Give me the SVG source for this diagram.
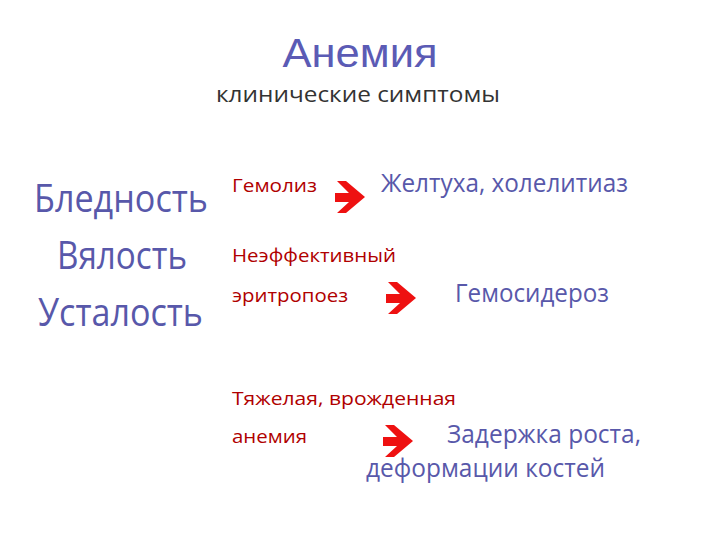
<svg xmlns="http://www.w3.org/2000/svg" width="720" height="540" viewBox="0 0 720 540">
<style>
.t{font-family:"Open Sans","Noto Sans","DejaVu Sans",sans-serif}
.blue{fill:#5858aa}
.red{fill:#b00000;font-size:19px}
.big{font-size:38px}
.mid{font-size:25px}
</style>
<defs>
<polygon id="arr" points="2,0 11,0 30,16 11,32 2,32 14,21 0,21 0,12 14,12" fill="#ee1111"/>
</defs>
<rect width="720" height="540" fill="#fff"/>
<g id="title">
<text x="360" y="67" text-anchor="middle" font-family="Liberation Sans, Arial, sans-serif" font-size="40" fill="#5b5bb5" textLength="155" lengthAdjust="spacingAndGlyphs">Анемия</text>
<text class="t" x="216" y="102" font-size="22" fill="#333" textLength="284" lengthAdjust="spacingAndGlyphs">клинические симптомы</text>
</g>
<g id="symptoms">
<text class="t big blue" x="34" y="212" textLength="174" lengthAdjust="spacingAndGlyphs">Бледность</text>
<text class="t big blue" x="57" y="269" textLength="130" lengthAdjust="spacingAndGlyphs">Вялость</text>
<text class="t big blue" x="38" y="326" textLength="165" lengthAdjust="spacingAndGlyphs">Усталость</text>
</g>
<g id="hemolysis">
<text class="t red" x="232" y="192" textLength="85" lengthAdjust="spacingAndGlyphs">Гемолиз</text>
</g>
<g id="jaundice">
<text class="t mid blue" x="381" y="192" textLength="247" lengthAdjust="spacingAndGlyphs">Желтуха, холелитиаз</text>
</g>
<g id="ineffective">
<text class="t red" x="232" y="262" textLength="164" lengthAdjust="spacingAndGlyphs">Неэффективный</text>
<text class="t red" x="232" y="302" textLength="116" lengthAdjust="spacingAndGlyphs">эритропоез</text>
</g>
<g id="hemosiderosis">
<text class="t mid blue" x="455" y="302" textLength="154" lengthAdjust="spacingAndGlyphs">Гемосидероз</text>
</g>
<g id="severe">
<text class="t red" x="232" y="405" textLength="224" lengthAdjust="spacingAndGlyphs">Тяжелая, врожденная</text>
<text class="t red" x="232" y="443" textLength="75" lengthAdjust="spacingAndGlyphs">анемия</text>
</g>
<g id="growth">
<text class="t mid blue" x="447" y="443" textLength="194" lengthAdjust="spacingAndGlyphs">Задержка роста,</text>
<text class="t mid blue" x="366" y="477" textLength="239" lengthAdjust="spacingAndGlyphs">деформации костей</text>
</g>
<g id="connectors">
<use href="#arr" x="335" y="181"/>
<use href="#arr" x="386" y="282"/>
<use href="#arr" x="383" y="425"/>
</g>
</svg>
